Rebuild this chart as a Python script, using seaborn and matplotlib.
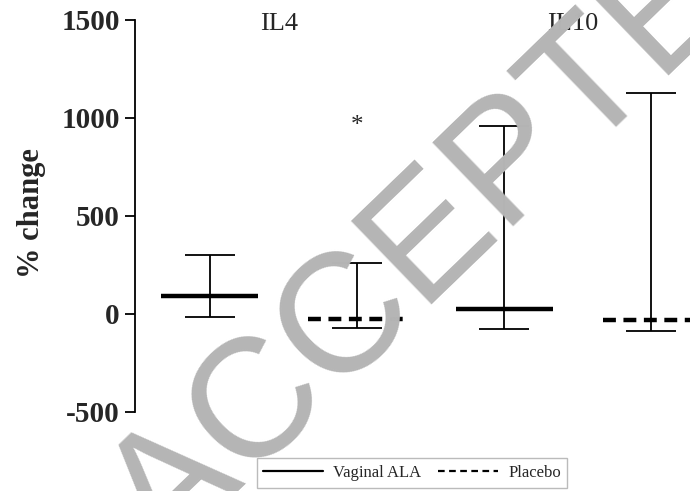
import matplotlib
matplotlib.use("Agg")
import numpy as np
import pandas as pd
import matplotlib.pyplot as plt
import seaborn as sns
from matplotlib.lines import Line2D

# values (median and range, % change)
cytokines = ["IL4", "IL4", "IL10", "IL10"]
treatments = ["Vaginal ALA", "Placebo", "Vaginal ALA", "Placebo"]
medians = [92, -26, 26, -31]
lows = [-15, -71, -77, -87]
highs = [301, 260, 959, 1128]
y_ticks = [-500, 0, 500, 1000, 1500]

df = pd.DataFrame({
    "cytokine": cytokines,
    "treatment": treatments,
    "median": medians,
    "low": lows,
    "high": highs,
})
df["pos"] = np.arange(len(df))

sns.set_theme(style="ticks")
plt.rcParams["font.family"] = ["Liberation Serif", "DejaVu Serif"]

fig = plt.figure(figsize=(6.9, 4.91), dpi=100)
ax = fig.add_axes([135 / 690, 1 - 412 / 491, 555 / 690, 392 / 491])

# watermark behind the chart
fig.text(165 / 690, 1 - 562 / 491, "ACCEPTED", transform=fig.transFigure,
         family="Liberation Sans", fontsize=122, color="#b5b5b5",
         rotation=44, rotation_mode="anchor", ha="left", va="baseline", zorder=0)

styles = {"Vaginal ALA": "-", "Placebo": (0, (2.9, 1.7))}
half = 0.33

for _, row in df.iterrows():
    ax.errorbar(row["pos"], row["median"],
                yerr=[[row["median"] - row["low"]], [row["high"] - row["median"]]],
                fmt="none", ecolor="black", elinewidth=1.3, capsize=18, capthick=1.3, zorder=3)
    ax.plot([row["pos"] - half, row["pos"] + half], [row["median"]] * 2,
            color="black", lw=3.2, linestyle=styles[row["treatment"]],
            solid_capstyle="butt", dash_capstyle="butt", zorder=4)

ax.set_xlim(-0.51, 3.265)
ax.set_ylim(-500, 1500)
ax.set_yticks(y_ticks)
ax.set_yticklabels([str(t) for t in y_ticks], fontsize=21, fontweight="bold")
ax.set_xticks([])
ax.tick_params(axis="y", length=7, width=1.3, color="black", pad=4)
sns.despine(ax=ax, bottom=True)
ax.spines["left"].set_linewidth(1.3)
ax.spines["left"].set_color("black")
ax.patch.set_alpha(0)

fig.text(31 / 690, 1 - 213 / 491, "% change", rotation=90, ha="center", va="center",
         fontsize=22, fontweight="bold")

# group titles above each pair
for name in ["IL4", "IL10"]:
    pos = df.loc[df["cytokine"] == name, "pos"].mean()
    ax.text(pos - 0.03, 0.99, name, transform=ax.get_xaxis_transform(),
            ha="center", va="center", fontsize=19, clip_on=False)

# significance mark over IL4 placebo
ax.text(1, 960, "*", ha="center", va="center", fontsize=18)

handles = [
    Line2D([0], [0], color="black", lw=1.6, linestyle="-"),
    Line2D([0], [0], color="black", lw=1.6, linestyle=(0, (3, 2))),
]
leg = fig.legend(handles, ["Vaginal ALA", "Placebo"], loc="center",
                 bbox_to_anchor=(412 / 690, 1 - 473 / 491), ncol=2,
                 fontsize=12, frameon=True, fancybox=False, handlelength=3.6,
                 columnspacing=1.0, handletextpad=0.6, borderpad=0.4)
leg.get_frame().set_edgecolor("#aaaaaa")
leg.get_frame().set_linewidth(1.0)

fig.savefig("out.png", dpi=100)
